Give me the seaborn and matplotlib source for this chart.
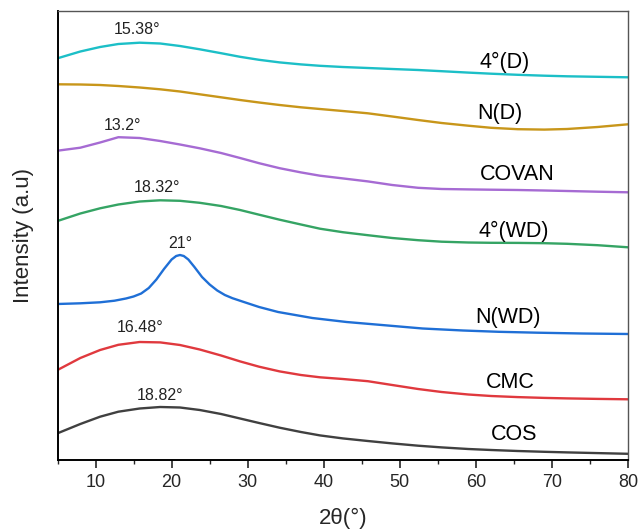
import matplotlib
matplotlib.use("Agg")
import matplotlib.pyplot as plt
import seaborn as sns
import pandas as pd
from matplotlib.ticker import MultipleLocator

# ---------------- data ----------------
two_theta = [5, 8, 10.6, 13, 15.8, 18.5, 21.1, 23.7, 26.5, 29, 31.5, 34.2, 37,
             39.5, 42.5, 45.8, 49, 52.4, 55.5, 59, 62, 65.5, 69, 72, 76, 80]

cos_vals = [26.7, 36, 43.3, 48.3, 51.5, 53, 52.5, 50, 46, 41.5, 37, 32.3, 28,
            24.6, 21.6, 19, 16.6, 14.3, 12.6, 11, 10, 9, 8.2, 7.6, 6.9, 6.2]
cmc_vals = [90, 102, 110, 115.2, 118, 117.6, 115, 110.5, 104.5, 98.6, 93.3, 88.6, 85,
            82.7, 81, 78.8, 75, 71, 68, 65.5, 64, 62.9, 62.1, 61.6, 61.1, 60.7]
wd4_vals = [239, 246.5, 251.7, 255.5, 258.5, 259.7, 259.2, 257.2, 254, 250, 245.3, 240.3, 235.5,
            231.3, 227.8, 224.8, 222, 219.8, 218.3, 217.5, 217.2, 217.1, 216.8, 216.2, 214.8, 212.7]
covan_vals = [309.3, 312.3, 317.5, 322.8, 322, 319, 315.5, 311.7, 307, 302, 296.8, 291.8, 287.6,
              284.3, 281.6, 278.6, 275, 272.2, 271, 270.6, 270.3, 270, 269.5, 269, 268.3, 267.7]
nd_vals = [375.7, 375.5, 375, 374, 372.5, 370.7, 368.5, 365.7, 362.7, 360, 357.5, 355, 352.7,
           351, 349, 346.7, 343.5, 340, 337, 334.3, 332.2, 330.8, 330.4, 331, 333, 335.7]
d4_vals = [401.7, 408.5, 413, 416, 417.3, 416.5, 414, 410.7, 406.8, 403.2, 400.2, 397.6, 395.6,
           394.2, 393, 392, 391, 390, 388.8, 387.4, 386.3, 385.2, 384.3, 383.7, 383.2, 382.7]

nwd_theta = [5, 8, 10.6, 12.5, 14, 15, 16, 17, 18, 19, 20, 20.6, 21.1, 21.6, 22.2, 23, 24,
             25, 26, 27, 28, 29.5, 31.5, 34, 38.5, 43, 48.4, 53, 58.3, 63, 68.1, 74, 80]
nwd_vals = [156, 156.7, 157.7, 159.3, 161.5, 163.5, 166.5, 172, 180.5, 191, 200.5, 204, 205,
            204, 200.5, 193, 183, 175.5, 169.5, 165, 161.8, 158, 153, 148, 142, 138, 134.5,
            131.5, 129.5, 128.2, 127.3, 126.5, 126]

series_names = ["COS", "CMC", "N(WD)", "4°(WD)", "COVAN", "N(D)", "4°(D)"]
series_colors = ["#404040", "#E0393E", "#1F6FD6", "#35A464", "#A66BD3", "#C8961A", "#1CBFC7"]

# curve labels: text, x, y
curve_labels = ["COS", "CMC", "N(WD)", "4°(WD)", "COVAN", "N(D)", "4°(D)"]
curve_label_x = [65.0, 64.5, 64.2, 65.0, 65.5, 63.2, 63.8]
curve_label_y = [25, 78, 143, 229, 285, 346, 398]

# peak labels
peak_labels = ["18.82°", "16.48°", "21°", "18.32°", "13.2°", "15.38°"]
peak_label_x = [18.5, 15.85, 21.2, 18.1, 13.5, 15.45]
peak_label_y = [65, 132, 217, 273, 334, 430]

# ---------------- build ----------------
sns.set_style("white")
plt.rcParams["font.family"] = ["Liberation Sans", "DejaVu Sans"]

frames = []
vals_list = [cos_vals, cmc_vals, None, wd4_vals, covan_vals, nd_vals, d4_vals]
for name, vals in zip(series_names, vals_list):
    if vals is None:
        frames.append(pd.DataFrame({"theta": nwd_theta, "I": nwd_vals, "sample": name}))
    else:
        frames.append(pd.DataFrame({"theta": two_theta, "I": vals, "sample": name}))
df = pd.concat(frames, ignore_index=True)

fig = plt.figure(figsize=(6.38, 5.29), dpi=100)
ax = fig.add_axes([57.5 / 638, 1 - 460 / 529, (628 - 57.5) / 638, (460 - 10.5) / 529])

sns.lineplot(data=df, x="theta", y="I", hue="sample", hue_order=series_names,
             palette=dict(zip(series_names, series_colors)), linewidth=1.7,
             sort=True, estimator=None, legend=False, ax=ax)
for line in ax.lines:
    line.set_solid_joinstyle("round")

for t, x, y in zip(curve_labels, curve_label_x, curve_label_y):
    ax.text(x, y, t, fontsize=15.5, ha="center", va="center", color="black")
for t, x, y in zip(peak_labels, peak_label_x, peak_label_y):
    ax.text(x, y, t, fontsize=11.5, ha="center", va="center", color="#222222")

ax.set_xlim(5, 80)
ax.set_ylim(0, 449.5)
ax.set_yticks([])
ax.xaxis.set_major_locator(MultipleLocator(10))
ax.xaxis.set_minor_locator(MultipleLocator(5))
ax.tick_params(axis="x", which="major", direction="out", length=6, width=1.2,
               labelsize=13, pad=4, bottom=True, top=False)
ax.tick_params(axis="x", which="minor", direction="out", length=3, width=1.0,
               bottom=True, top=False)
ax.set_xlabel("2θ(°)", fontsize=16, labelpad=12)
ax.set_ylabel("Intensity (a.u)", fontsize=16, labelpad=17)

for side in ["left", "bottom"]:
    ax.spines[side].set_color("black")
    ax.spines[side].set_linewidth(1.4)
for side in ["top", "right"]:
    ax.spines[side].set_color("#555555")
    ax.spines[side].set_linewidth(1.0)

fig.savefig("out.png", dpi=100)
